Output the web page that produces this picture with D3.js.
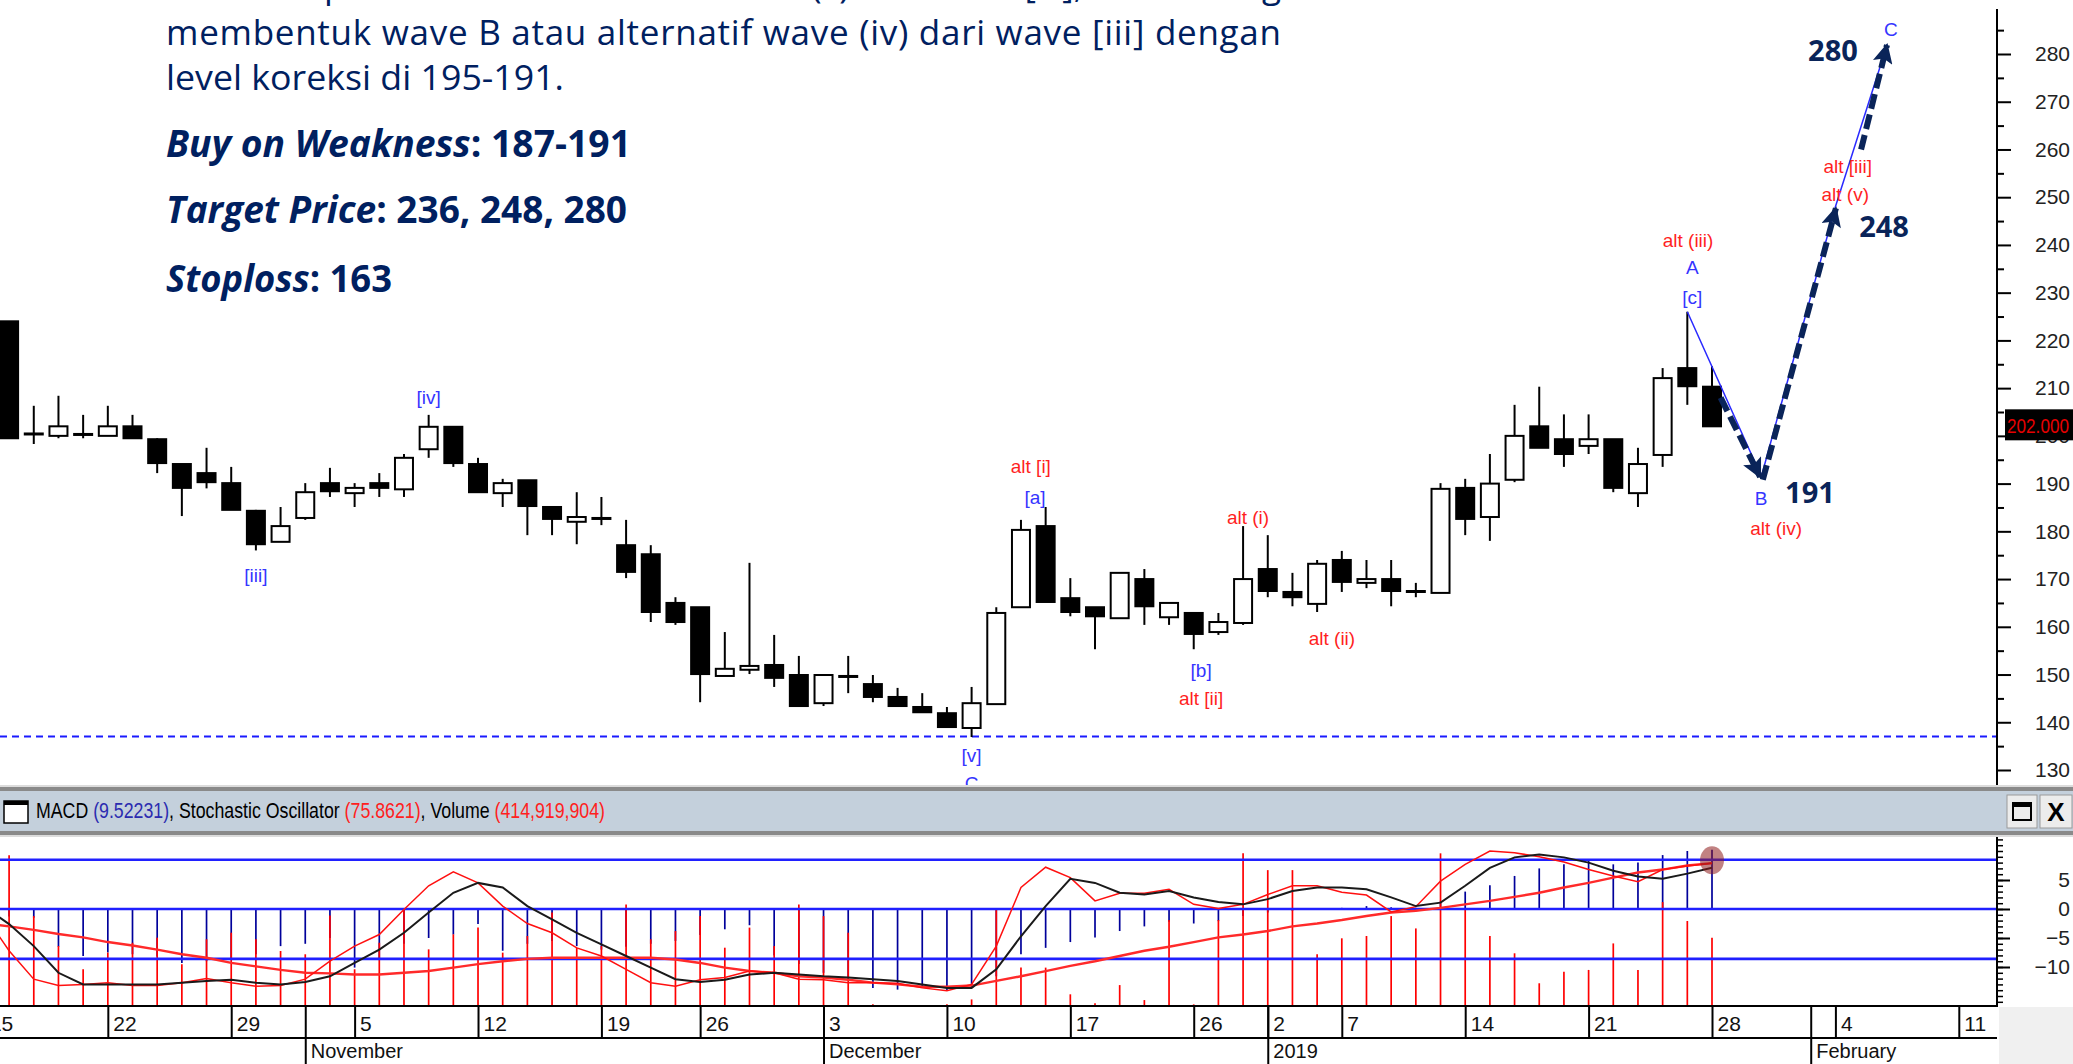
<!DOCTYPE html>
<html>
<head>
<meta charset="utf-8">
<script src="https://cdn.jsdelivr.net/npm/d3@7"></script>
<style>
  body { margin: 0; background: #fff; overflow: hidden; }
  svg { display: block; }
</style>
</head>
<body>
<div id="chart"></div>
<script>
const width = 2073
const height = 1064

// trading days (Oct 15 sits just off the left edge)
const dates = [
  '2018-10-15', '2018-10-16', '2018-10-17', '2018-10-18', '2018-10-19', '2018-10-22', '2018-10-23', '2018-10-24',
  '2018-10-25', '2018-10-26', '2018-10-29', '2018-10-30', '2018-10-31',
  '2018-11-01', '2018-11-02', '2018-11-05', '2018-11-06', '2018-11-07', '2018-11-08', '2018-11-09', '2018-11-12',
  '2018-11-13', '2018-11-14', '2018-11-15', '2018-11-16', '2018-11-19', '2018-11-21', '2018-11-22', '2018-11-23',
  '2018-11-26', '2018-11-27', '2018-11-28', '2018-11-29', '2018-11-30',
  '2018-12-03', '2018-12-04', '2018-12-05', '2018-12-06', '2018-12-07', '2018-12-10', '2018-12-11', '2018-12-12',
  '2018-12-13', '2018-12-14', '2018-12-17', '2018-12-18', '2018-12-19', '2018-12-20', '2018-12-21', '2018-12-26',
  '2018-12-27', '2018-12-28',
  '2019-01-02', '2019-01-03', '2019-01-04', '2019-01-07', '2019-01-08', '2019-01-09', '2019-01-10', '2019-01-11',
  '2019-01-14', '2019-01-15', '2019-01-16', '2019-01-17', '2019-01-18', '2019-01-21', '2019-01-22', '2019-01-23',
  '2019-01-24', '2019-01-25', '2019-01-28'
]

const open = [null,
  224, 200.5, 200, 200.4, 200, 202, 199.3, 194.1, 192.2, 190.1, 184.3, 177.8,
  182.8, 190.1, 188, 190.1, 188.8, 197.2, 201.9, 194.1, 188, 190.7, 185.1, 182, 182.8, 177.1, 175.2, 165, 164.1, 149.7, 151, 152, 149.9,
  144, 149.7, 148, 145.3, 143.2, 141.9, 138.8, 143.8, 164.1, 181.1, 166, 164.1, 161.8, 170, 162, 162.9, 158.9, 160.8,
  172.1, 167.3, 164.8, 174, 169.2, 170, 167.5, 167.1, 189.1, 183, 190.8, 202, 199.3, 197.9, 199.3, 188, 196, 214.2, 210.3]
const high = [null,
  224, 206.3, 208.4, 204.4, 206.3, 204.4, 199.5, 194.1, 197.5, 193.5, 184.5, 185.1,
  190.1, 193.3, 190.1, 192.2, 196.2, 204.4, 201.9, 195.4, 191, 190.7, 185.1, 188.2, 187.2, 182.4, 177.1, 166.2, 164.1, 158.9, 173.4, 158.3, 153.9,
  149.9, 153.9, 149.9, 147.2, 146.1, 143.2, 147.4, 164.1, 182.4, 185.1, 170.2, 164.1, 171.3, 172.1, 165, 162.9, 162.9, 181.1,
  179.2, 171.3, 174, 175.9, 174, 174, 169.2, 190.1, 191, 196.2, 206.5, 210.3, 204.5, 204.5, 199.3, 197.5, 214.2, 226, 214.6]
const low = [null,
  199.5, 198.3, 199.5, 199.5, 200, 199.5, 192.2, 183.2, 189, 184.5, 176, 177.8,
  182.4, 187.2, 185.1, 187.2, 187.2, 195.4, 193.5, 188.2, 185.1, 179.2, 179.2, 177.3, 181.3, 170.2, 161, 160.4, 144.2, 149.7, 150.1, 147.4, 143.4,
  143.4, 146.1, 144.2, 143.4, 142.1, 139, 136.9, 143.8, 164.1, 165.2, 162.2, 155.3, 161.8, 160.4, 160.4, 155.3, 158.3, 160.4,
  166.2, 164.3, 163.1, 167.3, 168.1, 164.3, 166.2, 167.1, 179.2, 178, 190.3, 197.5, 193.5, 196.2, 188.2, 185.1, 193.5, 206.5, 202]
const close = [null,
  199.5, 200.3, 202, 200.4, 202, 199.5, 194.3, 189.1, 190.3, 184.5, 177.3, 181.1,
  188.2, 188.4, 189.1, 189.1, 195.4, 201.9, 194.3, 188.2, 190.1, 185.3, 182.6, 183, 182.8, 171.5, 163.1, 161, 150.1, 151.2, 151.8, 149.3, 143.4,
  149.9, 149.7, 145.3, 143.4, 142.1, 139, 144, 162.9, 180.3, 165.2, 163.1, 162.2, 171.3, 164.3, 165, 158.5, 161, 170,
  167.5, 166.2, 173.2, 169.4, 170, 167.5, 167.5, 188.9, 182.6, 190, 200, 197.5, 196.2, 199.3, 189.1, 194.1, 212.1, 210.4, 202]

// volume in millions of shares
const volume = [null,
  915, 546, 364, 223, 324, 384, 415, 253, 405, 445, 405, 334,
  314, 550, 223, 384, 591, 344, 435, 476, 324, 425, 567, 354, 364, 617, 405, 455, 546, 354, 476, 364, 617,
  546, 445, 10, 5, 5, 10, 40, 587, 233, 233, 71, 16, 127, 36, 522, 10, 522, 927,
  825, 825, 314, 411, 425, 546, 471, 927, 593, 425, 320, 138, 208, 219, 380, 219, 631, 516, 415]
const macdHist = [-1.0,
  -1.3, -1.5, -6.5, -8.1, -7.5, -7.8, -8.2, -9.3, -9.0, -8.5, -7.8, -6.4,
  -6.0, -5.0, -10.1, -8.5, -6.0, -5.0, -4.4, -2.6, -7.2, -6.0, -5.5, -6.4, -7.0, -6.5, -6.0, -5.5, -4.5, -3.5, -2.8, -8.0, -9.5,
  -11.0, -12.0, -13.6, -13.9, -13.3, -14.1, -13.6, -11.6, -7.8, -6.7, -5.7, -4.9, -3.8, -3.0, -2.2, -2.5, -2.1, -1.2,
  -0.6, -0.3, -0.1, 0.2, 0.5, 0.3, 0.2, 1.4, 3.0, 4.1, 5.7, 7.0, 7.7, 8.4, 7.7, 8.0, 9.3, 10.0, 10.2]
const macdLine = [-2.5,
  -3.0, -3.6, -4.3, -4.9, -5.7, -6.3, -7.0, -7.8, -8.4, -9.3, -9.9, -10.5,
  -11.0, -11.1, -11.3, -11.3, -11.0, -10.7, -10.1, -9.5, -9.0, -8.6, -8.4, -8.4, -8.4, -8.4, -8.4, -8.7, -9.3, -10.1, -10.7, -11.0, -11.6,
  -11.8, -12.2, -12.7, -13.0, -13.4, -13.4, -13.2, -12.4, -11.6, -10.7, -9.8, -9.0, -8.1, -7.2, -6.5, -5.7, -4.9, -4.4,
  -3.8, -3.0, -2.5, -1.9, -1.2, -0.6, -0.3, 0.2, 0.8, 1.4, 2.1, 2.8, 3.7, 4.5, 5.4, 6.3, 6.8, 7.5, 7.9]
const stochK = [-1.0,
  -7.2, -12.1, -13.2, -13.0, -12.7, -13.2, -13.2, -12.7, -12.0, -12.7, -13.3, -13.2,
  -12.1, -9.0, -6.4, -4.4, -0.1, 4.0, 6.4, 4.5, 0.5, -2.5, -4.1, -6.7, -8.1, -10.4, -12.7, -13.3, -12.2, -11.8, -10.7, -11.0, -12.1,
  -12.2, -12.7, -12.7, -12.8, -13.6, -14.1, -13.0, -6.4, 3.7, 7.2, 5.4, 1.4, 2.7, 2.7, 3.4, 0.8, 0.1, 0.8,
  2.5, 4.0, 4.0, 2.9, 2.4, -0.5, 0.4, 4.8, 7.7, 10.0, 9.7, 9.0, 8.1, 6.8, 5.7, 4.7, 6.8, 7.4, 7.9]
const stochD = [0.4,
  -2.6, -6.4, -11.0, -13.0, -13.0, -13.0, -13.0, -12.7, -12.4, -12.2, -12.7, -13.0,
  -12.6, -11.6, -9.3, -7.0, -4.1, -0.6, 2.8, 4.5, 3.7, 0.5, -1.8, -4.1, -6.1, -8.1, -10.1, -12.1, -12.6, -12.2, -11.3, -11.0, -11.3,
  -11.6, -11.8, -12.1, -12.4, -13.0, -13.6, -13.6, -10.4, -4.7, 0.5, 5.2, 4.5, 2.8, 2.5, 3.1, 2.0, 1.2, 0.8,
  1.7, 3.1, 3.7, 3.7, 3.4, 2.0, 0.5, 1.1, 4.0, 7.1, 8.9, 9.4, 8.9, 8.0, 6.6, 5.6, 5.2, 6.1, 7.1]

// x axis: positions are trading-day numbers counted from Oct 15
const weekTicks = [0, 5, 10, 15, 20, 25, 29, 34, 39, 44, 49, 52, 55, 60, 65, 70, 75, 80]
const weekLabels = ['15', '22', '29', '5', '12', '19', '26', '3', '10', '17', '26', '2', '7', '14', '21', '28', '4', '11']
const monthTicks = [13, 34, 52, 74]
const monthLabels = ['November', 'December', '2019', 'February']

const priceTicks = d3.range(130, 290, 10)
const priceMinor = d3.range(135, 290, 10)
const oscTicks = [5, 0, -5, -10]
const oscLevels = [8.5, 0, -8.6]
const supportLevel = 137
const lastPrice = 202

// elliott wave count and projection, [day, price]
const waveLine = [[69, 226], [72, 191.5], [75, 248], [77.1, 282]]
const targetArrows = [
  [[70.35, 208], [71.95, 191.4]],
  [[72.06, 190.8], [75.02, 247.7]],
  [[76.04, 260], [77.09, 281.9]]
]
const waveLabels = [
  { t: '[iii]', i: 11, p: 170.8, alt: false },
  { t: '[iv]', i: 18, p: 208.1, alt: false },
  { t: '[v]', i: 40, p: 133, alt: false },
  { t: 'C', i: 40, p: 127.3, alt: false },
  { t: 'alt [i]', i: 42.4, p: 193.7, alt: true },
  { t: '[a]', i: 42.57, p: 187.2, alt: false },
  { t: '[b]', i: 49.3, p: 150.9, alt: false },
  { t: 'alt [ii]', i: 49.3, p: 145, alt: true },
  { t: 'alt (i)', i: 51.2, p: 183, alt: true },
  { t: 'alt (ii)', i: 54.6, p: 157.6, alt: true },
  { t: 'alt (iii)', i: 69.03, p: 241, alt: true },
  { t: 'A', i: 69.2, p: 235.2, alt: false },
  { t: '[c]', i: 69.2, p: 229.1, alt: false },
  { t: 'B', i: 71.99, p: 187, alt: false },
  { t: 'alt (iv)', i: 72.6, p: 180.7, alt: true },
  { t: 'alt [iii]', i: 75.5, p: 256.5, alt: true },
  { t: 'alt (v)', i: 75.4, p: 250.5, alt: true },
  { t: 'C', i: 77.25, p: 285.2, alt: false }
]
const targetLabels = [
  { t: '280', i: 74.9, p: 280.8 },
  { t: '248', i: 76.97, p: 243.8 },
  { t: '191', i: 73.97, p: 188.2 }
]

const navy = '#0a2459'
const axisX = 1997

const svg = d3.select('#chart').append('svg')
  .attr('width', width)
  .attr('height', height)
  .style('background', '#fff')

const defs = svg.append('defs')
defs.append('clipPath').attr('id', 'priceClip')
  .append('rect').attr('x', 0).attr('y', 0).attr('width', axisX).attr('height', 785)
defs.append('clipPath').attr('id', 'oscClip')
  .append('rect').attr('x', 0).attr('y', 837).attr('width', axisX).attr('height', 169)
defs.append('marker').attr('id', 'head')
  .attr('viewBox', '0 0 10 10')
  .attr('refX', 9).attr('refY', 5)
  .attr('markerUnits', 'userSpaceOnUse')
  .attr('markerWidth', 24).attr('markerHeight', 20)
  .attr('orient', 'auto')
  .append('path').attr('d', 'M0,0 L10,5 L0,10 L2,5 z').attr('fill', navy)

// Scales
const x = d3.scaleLinear().domain([1, 70]).range([9.1, 1712])
const y = d3.scaleLinear().domain([130, 280]).range([770, 54])
const yo = d3.scaleLinear().domain([-10, 5]).range([967, 880])
const yv = d3.scaleLinear().domain([0, 1000]).range([1006, 841.3])
const bodyW = 18

// ---------- price panel ----------
const price = svg.append('g').attr('clip-path', 'url(#priceClip)')

price.append('line')
  .attr('x1', 0).attr('x2', axisX)
  .attr('y1', y(supportLevel)).attr('y2', y(supportLevel))
  .attr('stroke', '#1a1aff').attr('stroke-width', 2)
  .attr('stroke-dasharray', '7 5')

const candles = dates.map((d, i) => ({ i, o: open[i], h: high[i], l: low[i], c: close[i] }))
  .filter(d => d.o != null)

price.selectAll('line.wick').data(candles).join('line')
  .attr('class', 'wick')
  .attr('x1', d => x(d.i)).attr('x2', d => x(d.i))
  .attr('y1', d => y(d.h)).attr('y2', d => y(d.l))
  .attr('stroke', '#000').attr('stroke-width', 2)

price.selectAll('rect.body').data(candles).join('rect')
  .attr('class', 'body')
  .attr('x', d => x(d.i) - bodyW / 2)
  .attr('width', bodyW)
  .attr('y', d => y(Math.max(d.o, d.c)))
  .attr('height', d => Math.max(1, Math.abs(y(d.o) - y(d.c))))
  .attr('fill', d => d.c > d.o ? '#fff' : '#000')
  .attr('stroke', '#000').attr('stroke-width', 2)

// thin wave line
price.append('path')
  .datum(waveLine)
  .attr('d', d3.line().x(d => x(d[0])).y(d => y(d[1])))
  .attr('fill', 'none').attr('stroke', '#2a2aff').attr('stroke-width', 1.5)

// projected path arrows
price.selectAll('line.arrow').data(targetArrows).join('line')
  .attr('class', 'arrow')
  .attr('x1', d => x(d[0][0])).attr('y1', d => y(d[0][1]))
  .attr('x2', d => x(d[1][0])).attr('y2', d => y(d[1][1]))
  .attr('stroke', navy).attr('stroke-width', 6)
  .attr('stroke-dasharray', '15 6')
  .attr('marker-end', 'url(#head)')

price.selectAll('text.wave').data(waveLabels).join('text')
  .attr('class', 'wave')
  .attr('x', d => x(d.i)).attr('y', d => y(d.p))
  .attr('dy', '0.35em')
  .attr('text-anchor', 'middle')
  .attr('fill', d => d.alt ? '#ff1f1f' : '#3535ff')
  .style('font-family', '"Liberation Sans", Arial, sans-serif')
  .style('font-size', '19px')
  .text(d => d.t)

price.selectAll('text.target').data(targetLabels).join('text')
  .attr('class', 'target')
  .attr('x', d => x(d.i)).attr('y', d => y(d.p))
  .attr('dy', '0.36em')
  .attr('text-anchor', 'middle')
  .attr('fill', navy)
  .style('font-family', '"Open Sans", sans-serif')
  .style('font-weight', 700)
  .style('font-size', '29px')
  .text(d => d.t)

// price axis
svg.append('line')
  .attr('x1', axisX).attr('x2', axisX).attr('y1', 9).attr('y2', 786)
  .attr('stroke', '#000').attr('stroke-width', 2)

svg.append('g')
  .attr('transform', `translate(${axisX},0)`)
  .call(d3.axisRight(y).tickValues(priceMinor).tickSize(7).tickSizeOuter(0).tickFormat(''))
  .call(g => g.select('.domain').remove())
  .call(g => g.selectAll('line').attr('stroke', '#000').attr('stroke-width', 2))

svg.append('g')
  .attr('transform', `translate(${axisX},0)`)
  .call(d3.axisRight(y).tickValues(priceTicks).tickSize(14).tickSizeOuter(0))
  .call(g => g.select('.domain').remove())
  .call(g => g.selectAll('line').attr('stroke', '#000').attr('stroke-width', 2))
  .call(g => g.selectAll('text')
    .attr('x', 73).attr('text-anchor', 'end').attr('fill', '#222')
    .style('font-family', '"Liberation Sans", Arial, sans-serif')
    .style('font-size', '21px'))

// last price tag
svg.append('rect')
  .attr('x', 2005).attr('y', y(lastPrice) - 17)
  .attr('width', 68).attr('height', 31)
  .attr('fill', '#000')
svg.append('text')
  .attr('x', 2007).attr('y', y(lastPrice) - 1)
  .attr('dy', '0.35em')
  .attr('textLength', 62).attr('lengthAdjust', 'spacingAndGlyphs')
  .attr('fill', '#e60000')
  .style('font-family', '"Liberation Sans", Arial, sans-serif')
  .style('font-size', '21px')
  .text(lastPrice.toFixed(3))

// ---------- commentary text ----------
const notes = svg.append('g').attr('fill', '#002060')
  .style('font-family', '"Open Sans", sans-serif')

notes.append('text')
  .attr('x', 166).attr('y', -2)
  .attr('textLength', 1115).attr('lengthAdjust', 'spacing')
  .style('font-size', '35px')
  .text('Saat ini diperkirakan telah selesai wave (v) dari wave [iii], dan sedang')
notes.append('text')
  .attr('x', 166).attr('y', 45)
  .attr('textLength', 1115).attr('lengthAdjust', 'spacing')
  .style('font-size', '35px')
  .text('membentuk wave B atau alternatif wave (iv) dari wave [iii] dengan')
notes.append('text')
  .attr('x', 166).attr('y', 90)
  .attr('textLength', 398).attr('lengthAdjust', 'spacingAndGlyphs')
  .style('font-size', '35px')
  .text('level koreksi di 195-191.')

const strategy = [
  { k: 'Buy on Weakness', v: ': 187-191', y: 157, w: 465 },
  { k: 'Target Price', v: ': 236, 248, 280', y: 223, w: 461 },
  { k: 'Stoploss', v: ': 163', y: 292, w: 226 }
]
strategy.forEach(s => {
  const t = notes.append('text')
    .attr('x', 166).attr('y', s.y)
    .attr('textLength', s.w).attr('lengthAdjust', 'spacingAndGlyphs')
    .style('font-size', '37px').style('font-weight', 700)
  t.append('tspan').style('font-style', 'italic').text(s.k)
  t.append('tspan').text(s.v)
})

// ---------- indicator pane header ----------
svg.append('rect').attr('x', 0).attr('y', 785).attr('width', width).attr('height', 2).attr('fill', '#dcdcdc')
svg.append('rect').attr('x', 0).attr('y', 787).attr('width', width).attr('height', 4).attr('fill', '#8a8a8a')
svg.append('rect').attr('x', 0).attr('y', 791).attr('width', width).attr('height', 40).attr('fill', '#c4d0dc')
svg.append('rect').attr('x', 0).attr('y', 831).attr('width', width).attr('height', 4).attr('fill', '#8a8a8a')
svg.append('rect').attr('x', 0).attr('y', 835).attr('width', width).attr('height', 2).attr('fill', '#dcdcdc')

svg.append('rect').attr('x', 4).attr('y', 801).attr('width', 24).attr('height', 22)
  .attr('fill', '#fff').attr('stroke', '#000').attr('stroke-width', 1.5)
svg.append('rect').attr('x', 4).attr('y', 801).attr('width', 24).attr('height', 4).attr('fill', '#000')

const head = svg.append('text')
  .attr('x', 36).attr('y', 818)
  .attr('textLength', 569).attr('lengthAdjust', 'spacingAndGlyphs')
  .attr('fill', '#000')
  .style('font-family', '"Liberation Sans", Arial, sans-serif')
  .style('font-size', '22px')
head.append('tspan').text('MACD ')
head.append('tspan').attr('fill', '#2b2bb0').text('(9.52231)')
head.append('tspan').text(', Stochastic Oscillator ')
head.append('tspan').attr('fill', '#ff2020').text('(75.8621)')
head.append('tspan').text(', Volume ')
head.append('tspan').attr('fill', '#ff2020').text('(414,919,904)')

// window buttons
svg.append('rect').attr('x', 2007).attr('y', 795).attr('width', 30).attr('height', 33)
  .attr('fill', '#ececec').attr('stroke', '#9a9a9a')
svg.append('rect').attr('x', 2013).attr('y', 803).attr('width', 18).attr('height', 17)
  .attr('fill', 'none').attr('stroke', '#000').attr('stroke-width', 2)
svg.append('rect').attr('x', 2013).attr('y', 803).attr('width', 18).attr('height', 4).attr('fill', '#000')
svg.append('rect').attr('x', 2040).attr('y', 795).attr('width', 32).attr('height', 33)
  .attr('fill', '#ececec').attr('stroke', '#9a9a9a')
svg.append('text').attr('x', 2056).attr('y', 821).attr('text-anchor', 'middle')
  .style('font-family', '"Liberation Sans", Arial, sans-serif')
  .style('font-size', '26px').style('font-weight', 700)
  .text('X')

// ---------- indicator pane ----------
const osc = svg.append('g').attr('clip-path', 'url(#oscClip)')
const days = d3.range(dates.length)

osc.selectAll('line.hist').data(days).join('line')
  .attr('class', 'hist')
  .attr('x1', i => x(i)).attr('x2', i => x(i))
  .attr('y1', yo(0)).attr('y2', i => yo(macdHist[i]))
  .attr('stroke', '#00009a').attr('stroke-width', 1.7)

osc.selectAll('line.vol').data(days.filter(i => volume[i] != null)).join('line')
  .attr('class', 'vol')
  .attr('x1', i => x(i)).attr('x2', i => x(i))
  .attr('y1', yv(0)).attr('y2', i => yv(volume[i]))
  .attr('stroke', '#ff0000').attr('stroke-width', 1.7)

osc.selectAll('line.level').data(oscLevels).join('line')
  .attr('class', 'level')
  .attr('x1', 0).attr('x2', axisX)
  .attr('y1', d => yo(d)).attr('y2', d => yo(d))
  .attr('stroke', '#2020ff').attr('stroke-width', 2.6)

const oscLine = arr => d3.line().x(i => x(i)).y(i => yo(arr[i]))(days)

osc.append('path').attr('d', oscLine(macdLine))
  .attr('fill', 'none').attr('stroke', '#ff2a2a').attr('stroke-width', 2.4)
osc.append('path').attr('d', oscLine(stochK))
  .attr('fill', 'none').attr('stroke', '#ff1010').attr('stroke-width', 1.5)
osc.append('path').attr('d', oscLine(stochD))
  .attr('fill', 'none').attr('stroke', '#1a1a1a').attr('stroke-width', 2)

osc.append('ellipse')
  .attr('cx', x(70)).attr('cy', yo(8.4))
  .attr('rx', 12).attr('ry', 14)
  .attr('fill', '#8e1c1c').attr('opacity', 0.55)

// pane axis
svg.append('line')
  .attr('x1', axisX).attr('x2', axisX).attr('y1', 837).attr('y2', 1007)
  .attr('stroke', '#000').attr('stroke-width', 2)

svg.append('g')
  .attr('transform', `translate(${axisX},0)`)
  .call(d3.axisRight(yo).tickValues(d3.range(-16, 13, 1)).tickSize(6).tickSizeOuter(0).tickFormat(''))
  .call(g => g.select('.domain').remove())
  .call(g => g.selectAll('line').attr('stroke', '#000').attr('stroke-width', 1.5))

svg.append('g')
  .attr('transform', `translate(${axisX},0)`)
  .call(d3.axisRight(yo).tickValues(oscTicks).tickSize(13).tickSizeOuter(0))
  .call(g => g.select('.domain').remove())
  .call(g => g.selectAll('line').attr('stroke', '#000').attr('stroke-width', 2))
  .call(g => g.selectAll('text')
    .attr('x', 73).attr('text-anchor', 'end').attr('fill', '#222')
    .style('font-family', '"Liberation Sans", Arial, sans-serif')
    .style('font-size', '21px'))

// ---------- date axis ----------
svg.append('rect').attr('x', axisX + 2).attr('y', 1007).attr('width', width - axisX).attr('height', 57)
  .attr('fill', '#f0f0f0')

defs.append('clipPath').attr('id', 'dateClip')
  .append('rect').attr('x', 0).attr('y', 1000).attr('width', axisX + 1).attr('height', 64)
const xg = svg.append('g').attr('clip-path', 'url(#dateClip)')

xg.append('line').attr('x1', 0).attr('x2', axisX).attr('y1', 1006).attr('y2', 1006)
  .attr('stroke', '#000').attr('stroke-width', 2)
xg.append('line').attr('x1', 0).attr('x2', axisX).attr('y1', 1038).attr('y2', 1038)
  .attr('stroke', '#000').attr('stroke-width', 2)

xg.append('g')
  .attr('transform', 'translate(0,1006)')
  .call(d3.axisBottom(x).tickValues(weekTicks).tickSize(32).tickSizeOuter(0)
    .tickFormat((d, i) => weekLabels[i]))
  .call(g => g.select('.domain').remove())
  .call(g => g.selectAll('line').attr('stroke', '#000').attr('stroke-width', 2))
  .call(g => g.selectAll('text')
    .attr('x', 5).attr('y', 10).attr('text-anchor', 'start').attr('fill', '#111')
    .style('font-family', '"Liberation Sans", Arial, sans-serif')
    .style('font-size', '21px'))

xg.append('g')
  .attr('transform', 'translate(0,1006)')
  .call(d3.axisBottom(x).tickValues(monthTicks).tickSize(58).tickSizeOuter(0)
    .tickFormat((d, i) => monthLabels[i]))
  .call(g => g.select('.domain').remove())
  .call(g => g.selectAll('line').attr('stroke', '#000').attr('stroke-width', 2))
  .call(g => g.selectAll('text')
    .attr('x', 5).attr('y', 38).attr('text-anchor', 'start').attr('fill', '#111')
    .style('font-family', '"Liberation Sans", Arial, sans-serif')
    .style('font-size', '20px'))
</script>
</body>
</html>
